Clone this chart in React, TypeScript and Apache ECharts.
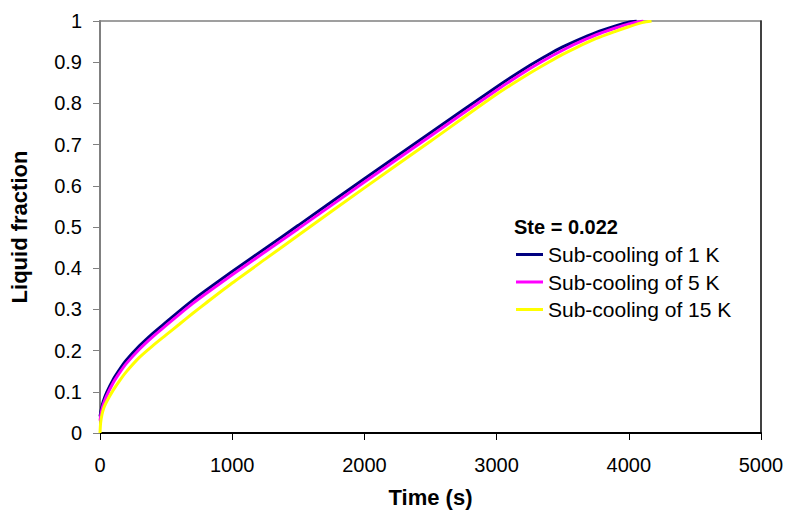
import React, { useEffect, useRef } from "react";
import * as echarts from "echarts";

const timeBlue = [0, 10, 25, 50, 100, 150, 200, 300, 400, 500, 600, 700, 800, 1000, 1250, 1500, 2000, 2500, 3000, 3250, 3400, 3500, 3600, 3750, 3900, 4000, 4060];
const fracBlue = [0.04, 0.058, 0.077, 0.098, 0.13, 0.155, 0.177, 0.212, 0.242, 0.269, 0.296, 0.322, 0.346, 0.392, 0.448, 0.504, 0.617, 0.729, 0.84, 0.892, 0.92, 0.937, 0.952, 0.972, 0.988, 0.997, 1.0];

const timePink = [0, 10, 25, 50, 100, 150, 200, 300, 400, 500, 600, 700, 800, 1000, 1250, 1500, 2000, 2500, 3000, 3250, 3400, 3500, 3600, 3750, 3900, 4000, 4110];
const fracPink = [0.03, 0.05, 0.069, 0.09, 0.122, 0.147, 0.169, 0.204, 0.234, 0.261, 0.288, 0.314, 0.338, 0.384, 0.44, 0.496, 0.609, 0.721, 0.832, 0.884, 0.912, 0.929, 0.945, 0.966, 0.983, 0.993, 1.0];

const timeYellow = [0, 5, 15, 30, 50, 100, 150, 200, 300, 400, 500, 600, 700, 800, 1000, 1250, 1500, 2000, 2500, 3000, 3250, 3400, 3500, 3600, 3750, 3900, 4000, 4100, 4172];
const fracYellow = [0.0, 0.025, 0.045, 0.062, 0.076, 0.104, 0.128, 0.149, 0.184, 0.212, 0.238, 0.264, 0.29, 0.315, 0.364, 0.422, 0.48, 0.595, 0.708, 0.822, 0.873, 0.901, 0.919, 0.935, 0.957, 0.975, 0.986, 0.996, 1.0];

const seriesNames = ["Sub-cooling of 1 K", "Sub-cooling of 5 K", "Sub-cooling of 15 K"];
const seriesColors = ["#000080", "#FF00FF", "#FFFF00"];
const legendTitle = "Ste = 0.022";
const xAxisName = "Time (s)";
const yAxisName = "Liquid fraction";

const FONT = "Arial, 'Liberation Sans', sans-serif";

function pairs(t: number[], v: number[]) {
  return t.map((x, i) => [x, v[i]]);
}

export default function App() {
  const ref = useRef<HTMLDivElement>(null);
  useEffect(() => {
    document.body.style.margin = "0";
    if (!ref.current) return;
    const chart = echarts.init(ref.current, undefined, { renderer: "svg" });
    const datasets = [
      pairs(timeBlue, fracBlue),
      pairs(timePink, fracPink),
      pairs(timeYellow, fracYellow),
    ];
    chart.setOption({
      animation: false,
      backgroundColor: "#ffffff",
      textStyle: { fontFamily: FONT, color: "#000" },
      grid: {
        left: 100,
        right: 26,
        top: 21,
        bottom: 78,
        containLabel: false,
        outerBoundsMode: "none",
        show: true,
        borderColor: "#808080",
        borderWidth: 1.5,
        backgroundColor: "transparent",
      },
      xAxis: [
        {
          type: "value",
          min: 0,
          max: 5000,
          interval: 1000,
          name: xAxisName,
          nameLocation: "middle",
          nameGap: 53,
          nameTextStyle: { fontFamily: FONT, fontWeight: "bold", fontSize: 22, color: "#000" },
          axisLine: { show: true, lineStyle: { color: "#000", width: 2 } },
          axisTick: { show: true, inside: false, length: 7, lineStyle: { color: "#000", width: 1 } },
          axisLabel: {
            fontFamily: FONT,
            fontSize: 20,
            color: "#000",
            margin: 22,
            formatter: (v: number) => String(v),
          },
          splitLine: { show: false },
        },
      ],
      yAxis: [
        {
          type: "value",
          min: 0,
          max: 1,
          interval: 0.1,
          name: yAxisName,
          nameLocation: "middle",
          nameGap: 70,
          nameRotate: 90,
          nameTextStyle: { fontFamily: FONT, fontWeight: "bold", fontSize: 22, color: "#000" },
          axisLine: { show: true, lineStyle: { color: "#808080", width: 2 } },
          axisTick: { show: true, inside: false, length: 7, lineStyle: { color: "#808080", width: 1 } },
          axisLabel: {
            fontFamily: FONT,
            fontSize: 20,
            color: "#000",
            margin: 18,
            formatter: (v: number) => String(Math.round(v * 10) / 10),
          },
          splitLine: { show: false },
        },
        {
          type: "value",
          position: "right",
          min: 0,
          max: 1,
          interval: 0.1,
          axisLine: { show: true, lineStyle: { color: "#222", width: 1.5 } },
          axisTick: { show: false },
          axisLabel: { show: false },
          splitLine: { show: false },
        },
      ],
      legend: {
        orient: "vertical",
        left: 516,
        top: 244,
        itemWidth: 27,
        itemHeight: 3,
        itemGap: 6.5,
        icon: "rect",
        data: seriesNames,
        textStyle: { fontFamily: FONT, fontSize: 21, color: "#000", lineHeight: 20, padding: [0, 0, 0, 0] },
        padding: 0,
      },
      graphic: [
        {
          type: "text",
          left: 514,
          top: 217,
          style: { text: legendTitle, font: "bold 20px " + FONT, fill: "#000" },
        },
      ],
      series: datasets.map((d, i) => ({
        name: seriesNames[i],
        type: "line",
        data: d,
        smooth: 0.25,
        showSymbol: false,
        symbol: "none",
        lineStyle: { color: seriesColors[i], width: 3 },
        itemStyle: { color: seriesColors[i] },
        z: 2 + i,
      })),
    });
    return () => chart.dispose();
  }, []);
  return <div ref={ref} style={{ width: 787, height: 511 }} />;
}
